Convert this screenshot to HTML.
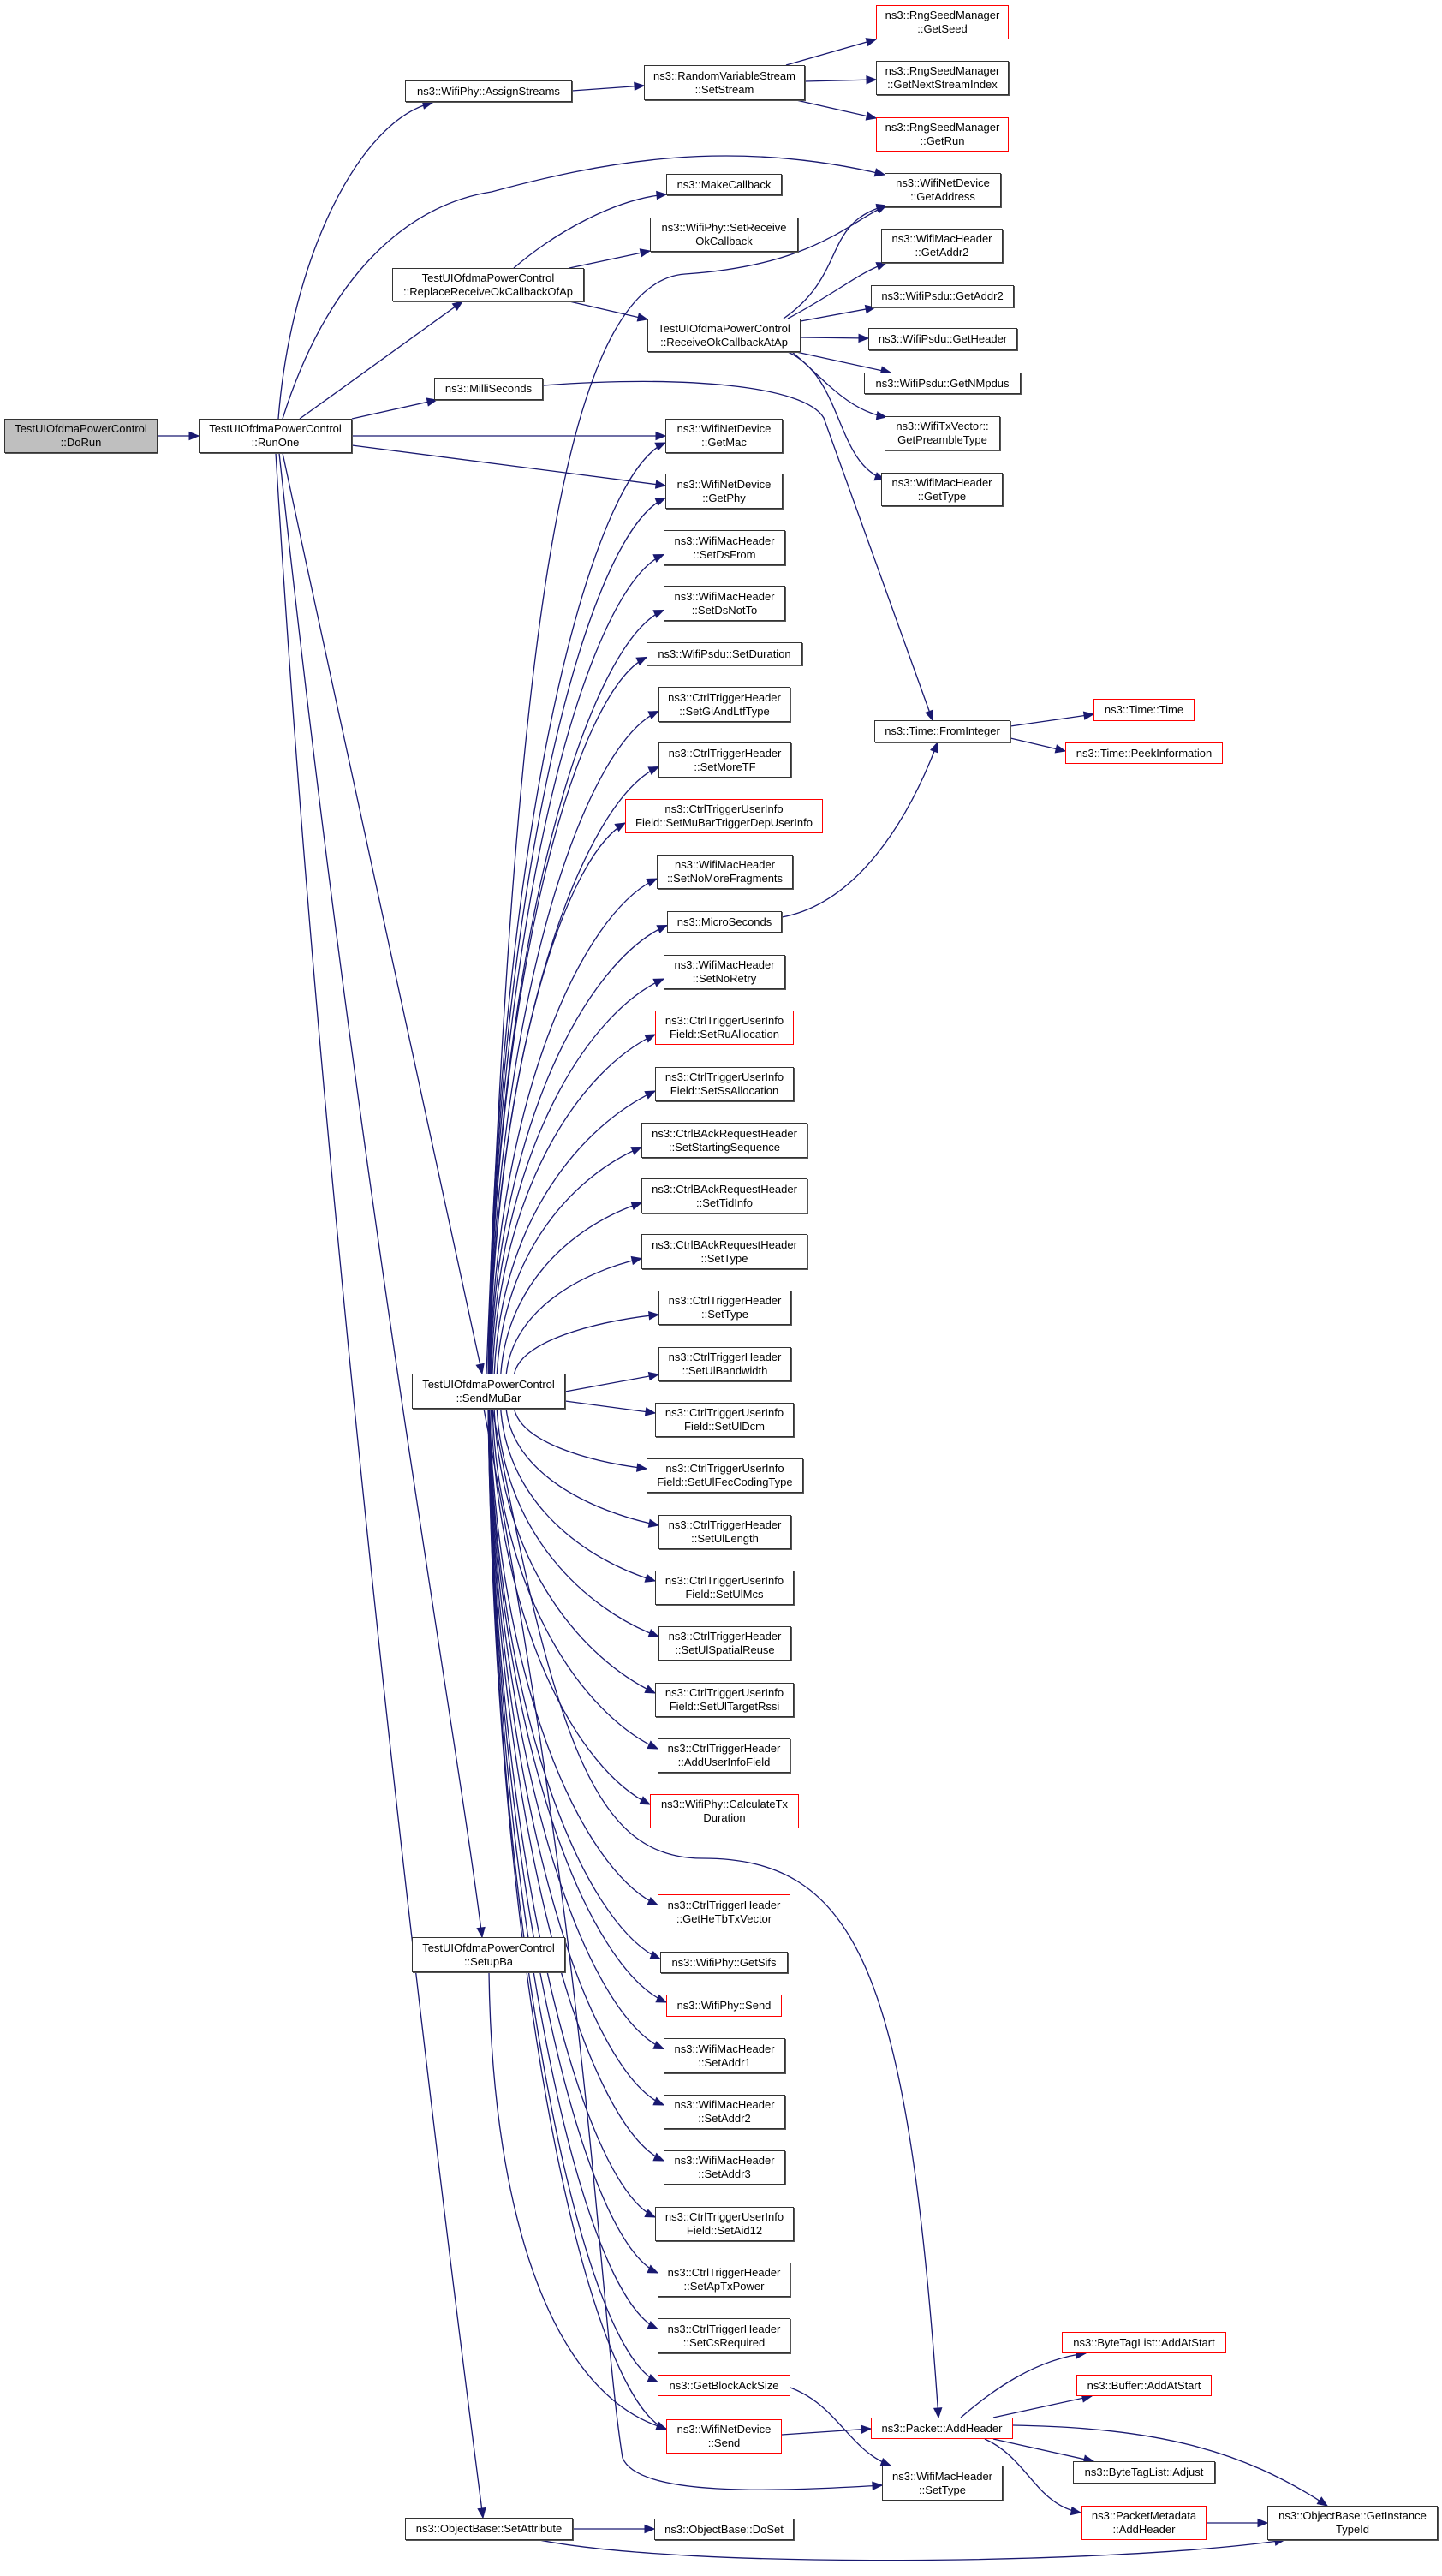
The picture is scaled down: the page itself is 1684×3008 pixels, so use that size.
<!DOCTYPE html>
<html><head><meta charset="utf-8">
<style>
html,body{margin:0;padding:0;background:#fff;}
body{width:1684px;height:3008px;position:relative;overflow:hidden;font-family:"Liberation Sans",Arial,sans-serif;}
.n{position:absolute;box-sizing:border-box;border:1px solid #333;background:#fff;font-size:13px;line-height:16px;color:#000;display:flex;align-items:center;justify-content:center;text-align:center;white-space:nowrap;box-shadow:1px 1px 0 #555;}
.r{border-color:#ff0000;box-shadow:none;}
.g{background:#bfbfbf;}
svg{position:absolute;left:0;top:0;}
</style></head><body>
<svg id="sv" width="1684" height="3008" viewBox="0 0 1684 3008"></svg>

<div class="n g" id="doRun" style="left:5px;top:489px;width:179px;height:40px">TestUIOfdmaPowerControl<br>::DoRun</div>
<div class="n" id="runOne" style="left:232px;top:489px;width:179px;height:40px">TestUIOfdmaPowerControl<br>::RunOne</div>
<div class="n" id="assign" style="left:473px;top:94px;width:195px;height:25px">ns3::WifiPhy::AssignStreams</div>
<div class="n" id="setStream" style="left:752px;top:76px;width:188px;height:41px">ns3::RandomVariableStream<br>::SetStream</div>
<div class="n r" id="getSeed" style="left:1023px;top:6px;width:155px;height:40px">ns3::RngSeedManager<br>::GetSeed</div>
<div class="n" id="getNext" style="left:1023px;top:71px;width:155px;height:40px">ns3::RngSeedManager<br>::GetNextStreamIndex</div>
<div class="n r" id="getRun" style="left:1023px;top:137px;width:155px;height:40px">ns3::RngSeedManager<br>::GetRun</div>
<div class="n" id="getAddress" style="left:1033px;top:202px;width:136px;height:40px">ns3::WifiNetDevice<br>::GetAddress</div>
<div class="n" id="makeCb" style="left:778px;top:203px;width:135px;height:25px">ns3::MakeCallback</div>
<div class="n" id="setRecv" style="left:759px;top:254px;width:173px;height:40px">ns3::WifiPhy::SetReceive<br>OkCallback</div>
<div class="n" id="replace" style="left:458px;top:313px;width:224px;height:39px">TestUIOfdmaPowerControl<br>::ReplaceReceiveOkCallbackOfAp</div>
<div class="n" id="recvAp" style="left:756px;top:372px;width:179px;height:39px">TestUIOfdmaPowerControl<br>::ReceiveOkCallbackAtAp</div>
<div class="n" id="macAddr2" style="left:1029px;top:267px;width:142px;height:40px">ns3::WifiMacHeader<br>::GetAddr2</div>
<div class="n" id="psduAddr2" style="left:1017px;top:333px;width:167px;height:26px">ns3::WifiPsdu::GetAddr2</div>
<div class="n" id="getHeader" style="left:1014px;top:383px;width:174px;height:26px">ns3::WifiPsdu::GetHeader</div>
<div class="n" id="getNMpdus" style="left:1009px;top:435px;width:183px;height:25px">ns3::WifiPsdu::GetNMpdus</div>
<div class="n" id="preamble" style="left:1033px;top:486px;width:135px;height:40px">ns3::WifiTxVector::<br>GetPreambleType</div>
<div class="n" id="macGetType" style="left:1029px;top:552px;width:142px;height:39px">ns3::WifiMacHeader<br>::GetType</div>
<div class="n" id="milli" style="left:507px;top:441px;width:127px;height:26px">ns3::MilliSeconds</div>
<div class="n" id="getMac" style="left:777px;top:489px;width:137px;height:40px">ns3::WifiNetDevice<br>::GetMac</div>
<div class="n" id="getPhy" style="left:777px;top:553px;width:137px;height:41px">ns3::WifiNetDevice<br>::GetPhy</div>
<div class="n" id="setDsFrom" style="left:775px;top:619px;width:142px;height:41px">ns3::WifiMacHeader<br>::SetDsFrom</div>
<div class="n" id="setDsNotTo" style="left:775px;top:684px;width:142px;height:41px">ns3::WifiMacHeader<br>::SetDsNotTo</div>
<div class="n" id="setDuration" style="left:755px;top:750px;width:182px;height:27px">ns3::WifiPsdu::SetDuration</div>
<div class="n" id="setGi" style="left:769px;top:802px;width:154px;height:41px">ns3::CtrlTriggerHeader<br>::SetGiAndLtfType</div>
<div class="n" id="setMoreTF" style="left:769px;top:867px;width:155px;height:41px">ns3::CtrlTriggerHeader<br>::SetMoreTF</div>
<div class="n r" id="setMuBar" style="left:730px;top:933px;width:231px;height:40px">ns3::CtrlTriggerUserInfo<br>Field::SetMuBarTriggerDepUserInfo</div>
<div class="n" id="noMoreFrag" style="left:767px;top:998px;width:159px;height:40px">ns3::WifiMacHeader<br>::SetNoMoreFragments</div>
<div class="n" id="micro" style="left:779px;top:1064px;width:134px;height:25px">ns3::MicroSeconds</div>
<div class="n" id="noRetry" style="left:775px;top:1115px;width:142px;height:40px">ns3::WifiMacHeader<br>::SetNoRetry</div>
<div class="n r" id="ruAlloc" style="left:765px;top:1180px;width:162px;height:40px">ns3::CtrlTriggerUserInfo<br>Field::SetRuAllocation</div>
<div class="n" id="ssAlloc" style="left:765px;top:1246px;width:162px;height:40px">ns3::CtrlTriggerUserInfo<br>Field::SetSsAllocation</div>
<div class="n" id="startSeq" style="left:749px;top:1311px;width:194px;height:41px">ns3::CtrlBAckRequestHeader<br>::SetStartingSequence</div>
<div class="n" id="tidInfo" style="left:749px;top:1376px;width:194px;height:41px">ns3::CtrlBAckRequestHeader<br>::SetTidInfo</div>
<div class="n" id="backType" style="left:749px;top:1441px;width:194px;height:41px">ns3::CtrlBAckRequestHeader<br>::SetType</div>
<div class="n" id="trigType" style="left:769px;top:1507px;width:155px;height:40px">ns3::CtrlTriggerHeader<br>::SetType</div>
<div class="n" id="ulBw" style="left:769px;top:1573px;width:155px;height:40px">ns3::CtrlTriggerHeader<br>::SetUlBandwidth</div>
<div class="n" id="ulDcm" style="left:765px;top:1638px;width:162px;height:40px">ns3::CtrlTriggerUserInfo<br>Field::SetUlDcm</div>
<div class="n" id="ulFec" style="left:755px;top:1703px;width:183px;height:40px">ns3::CtrlTriggerUserInfo<br>Field::SetUlFecCodingType</div>
<div class="n" id="ulLength" style="left:769px;top:1769px;width:155px;height:40px">ns3::CtrlTriggerHeader<br>::SetUlLength</div>
<div class="n" id="ulMcs" style="left:765px;top:1834px;width:162px;height:40px">ns3::CtrlTriggerUserInfo<br>Field::SetUlMcs</div>
<div class="n" id="ulSR" style="left:769px;top:1899px;width:155px;height:40px">ns3::CtrlTriggerHeader<br>::SetUlSpatialReuse</div>
<div class="n" id="ulRssi" style="left:765px;top:1965px;width:162px;height:40px">ns3::CtrlTriggerUserInfo<br>Field::SetUlTargetRssi</div>
<div class="n" id="addUser" style="left:768px;top:2030px;width:155px;height:40px">ns3::CtrlTriggerHeader<br>::AddUserInfoField</div>
<div class="n r" id="calcTx" style="left:759px;top:2095px;width:174px;height:40px">ns3::WifiPhy::CalculateTx<br>Duration</div>
<div class="n r" id="heTb" style="left:768px;top:2212px;width:155px;height:41px">ns3::CtrlTriggerHeader<br>::GetHeTbTxVector</div>
<div class="n" id="sifs" style="left:771px;top:2279px;width:149px;height:25px">ns3::WifiPhy::GetSifs</div>
<div class="n r" id="phySend" style="left:778px;top:2329px;width:135px;height:26px">ns3::WifiPhy::Send</div>
<div class="n" id="addr1" style="left:775px;top:2380px;width:142px;height:41px">ns3::WifiMacHeader<br>::SetAddr1</div>
<div class="n" id="addr2" style="left:775px;top:2446px;width:142px;height:40px">ns3::WifiMacHeader<br>::SetAddr2</div>
<div class="n" id="addr3" style="left:775px;top:2511px;width:142px;height:40px">ns3::WifiMacHeader<br>::SetAddr3</div>
<div class="n" id="aid12" style="left:765px;top:2577px;width:162px;height:40px">ns3::CtrlTriggerUserInfo<br>Field::SetAid12</div>
<div class="n" id="apTx" style="left:768px;top:2642px;width:155px;height:40px">ns3::CtrlTriggerHeader<br>::SetApTxPower</div>
<div class="n" id="csReq" style="left:768px;top:2707px;width:155px;height:41px">ns3::CtrlTriggerHeader<br>::SetCsRequired</div>
<div class="n r" id="blockAck" style="left:768px;top:2773px;width:155px;height:25px">ns3::GetBlockAckSize</div>
<div class="n r" id="devSend" style="left:778px;top:2825px;width:135px;height:40px">ns3::WifiNetDevice<br>::Send</div>
<div class="n r" id="addHeader" style="left:1017px;top:2823px;width:166px;height:25px">ns3::Packet::AddHeader</div>
<div class="n" id="setType" style="left:1030px;top:2879px;width:141px;height:41px">ns3::WifiMacHeader<br>::SetType</div>
<div class="n" id="setupBa" style="left:481px;top:2262px;width:179px;height:41px">TestUIOfdmaPowerControl<br>::SetupBa</div>
<div class="n" id="sendMuBar" style="left:481px;top:1604px;width:179px;height:41px">TestUIOfdmaPowerControl<br>::SendMuBar</div>
<div class="n" id="setAttr" style="left:473px;top:2940px;width:196px;height:26px">ns3::ObjectBase::SetAttribute</div>
<div class="n" id="doSet" style="left:764px;top:2941px;width:163px;height:25px">ns3::ObjectBase::DoSet</div>
<div class="n" id="fromInt" style="left:1021px;top:841px;width:159px;height:26px">ns3::Time::FromInteger</div>
<div class="n r" id="timeTime" style="left:1277px;top:816px;width:118px;height:26px">ns3::Time::Time</div>
<div class="n r" id="peek" style="left:1244px;top:867px;width:184px;height:25px">ns3::Time::PeekInformation</div>
<div class="n r" id="btAdd" style="left:1240px;top:2723px;width:192px;height:25px">ns3::ByteTagList::AddAtStart</div>
<div class="n r" id="bufAdd" style="left:1257px;top:2773px;width:158px;height:25px">ns3::Buffer::AddAtStart</div>
<div class="n" id="btAdjust" style="left:1253px;top:2874px;width:166px;height:26px">ns3::ByteTagList::Adjust</div>
<div class="n r" id="pmAdd" style="left:1263px;top:2926px;width:146px;height:40px">ns3::PacketMetadata<br>::AddHeader</div>
<div class="n" id="instType" style="left:1480px;top:2926px;width:199px;height:40px">ns3::ObjectBase::GetInstance<br>TypeId</div>

<script>
(function(){
var sv=document.getElementById('sv');var NS='http://www.w3.org/2000/svg';var C='#191970';
function box(id){var e=document.getElementById(id);return {x:e.offsetLeft,y:e.offsetTop,w:e.offsetWidth,h:e.offsetHeight};}
function draw(d,c2x,c2y,tx,ty){
 var p=document.createElementNS(NS,'path');p.setAttribute('d',d);p.setAttribute('fill','none');p.setAttribute('stroke',C);p.setAttribute('stroke-width','1.3');sv.appendChild(p);
 var dx=tx-c2x,dy=ty-c2y,L=Math.sqrt(dx*dx+dy*dy)||1;dx/=L;dy/=L;
 var bx=tx-dx*11,by=ty-dy*11,px=-dy*4.5,py=dx*4.5;
 var a=document.createElementNS(NS,'polygon');a.setAttribute('points',tx+','+ty+' '+(bx+px)+','+(by+py)+' '+(bx-px)+','+(by-py));a.setAttribute('fill',C);a.setAttribute('stroke',C);sv.appendChild(a);
}
function cub(sx,sy,c1x,c1y,c2x,c2y,tx,ty){draw('M'+sx+' '+sy+' C'+c1x+' '+c1y+','+c2x+' '+c2y+','+tx+' '+ty,c2x,c2y,tx,ty);}
function line(sx,sy,tx,ty){draw('M'+sx+' '+sy+' L'+tx+' '+ty,sx,sy,tx,ty);}
function raw(d,c2x,c2y,tx,ty){draw(d,c2x,c2y,tx,ty);}
function hz(sx,sy,tx,ty){var m=(sx+tx)/2;cub(sx,sy,m,sy,m,ty,tx,ty);}

line(184,509,232,509);
cub(325,489,340,300,420,140,505,120);
raw('M330 489 C380 330,470 240,574 224 C700 190,850 160,1033 204',850,160,1033,204);
line(350,489,540,352);
line(411,489,510,467);
line(411,509,777,509);
line(411,520,777,567);
cub(330,529,420,950,520,1400,563,1604);
cub(326,529,420,1400,530,2000,563,2262);
cub(322,529,380,1500,520,2600,564,2940);

line(668,106,752,100);
line(918,76,1023,46);
line(940,95,1023,93);
line(930,117,1023,138);
cub(600,313,650,270,720,232,778,227);
line(665,313,759,293);
line(665,352,756,373);

cub(915,372,990,320,960,260,1035,240);
cub(920,372,980,340,1000,320,1035,307);
line(935,375,1022,359);
line(935,394,1014,395);
line(930,411,1040,435);
cub(925,411,960,440,990,480,1035,487);
cub(920,411,985,440,975,540,1033,560);

raw('M634 450 C800 438,940 450,962 488 L1089 841',962,488,1089,841);
cub(913,1071,1000,1055,1060,960,1095,867);
line(1180,848,1277,834);
line(1180,862,1244,877);

raw('M568 1604 C600 800,650 330,800 320 C950 310,990 260,1035 240',990,260,1035,240);

var up=['getMac','getPhy','setDsFrom','setDsNotTo','setDuration','setGi','setMoreTF','setMuBar','noMoreFrag','micro','noRetry','ruAlloc','ssAlloc','startSeq','tidInfo','backType','trigType'];
var dn=['ulFec','ulLength','ulMcs','ulSR','ulRssi','addUser','calcTx','heTb','sifs','phySend','addr1','addr2','addr3','aid12','apTx','csReq','blockAck','devSend'];
up.forEach(function(id){var b=box(id);var tx=b.x,ty=b.y+b.h/2+(b.h>30?8:4);var sy=1604,d=sy-ty;var sx=570+45*Math.exp(-d/180);
 cub(sx,sy,sx+8,sy-d*0.55,tx-(tx-sx)*0.45,ty+Math.min(40,d*0.12),tx,ty);});
dn.forEach(function(id){var b=box(id);var tx=b.x,ty=b.y+b.h/2-(b.h>30?8:4);var sy=1645,d=ty-sy;var sx=570+45*Math.exp(-d/180);
 cub(sx,sy,sx+8,sy+d*0.55,tx-(tx-sx)*0.45,ty-Math.min(40,d*0.12),tx,ty);});
line(660,1625,769,1605);
line(660,1636,765,1650);

raw('M575 1645 C650 2050,700 2170,820 2170 C1000 2170,1060 2300,1096 2823',1060,2300,1096,2823);
raw('M565 1645 C690 2300,700 2700,727 2870 C745 2915,900 2910,1030 2902',900,2910,1030,2902);
cub(571,2303,575,2600,650,2800,778,2836);
cub(923,2788,980,2810,990,2860,1040,2879);
line(913,2843,1017,2836);
cub(1122,2823,1160,2790,1210,2755,1268,2748);
line(1160,2823,1275,2798);
line(1160,2848,1277,2874);
cub(1150,2848,1200,2870,1210,2925,1262,2934);
cub(1183,2832,1350,2835,1450,2860,1550,2926);
line(1409,2946,1480,2946);
line(669,2953,764,2953);
cub(630,2966,800,3000,1300,2995,1500,2966);
})();
</script>
</body></html>
